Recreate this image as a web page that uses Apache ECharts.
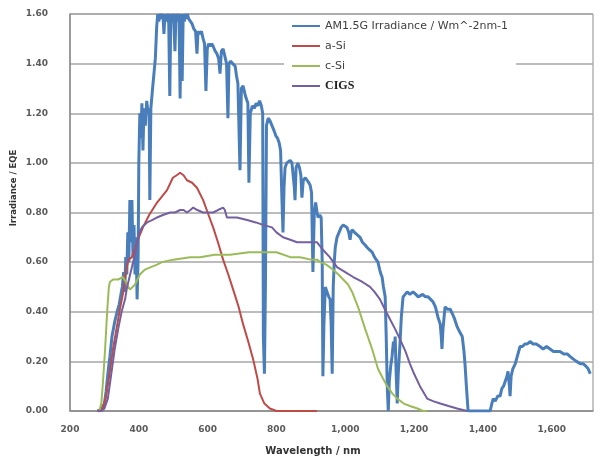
<!DOCTYPE html>
<html>
<head>
<meta charset="utf-8">
<script src="https://cdn.jsdelivr.net/npm/echarts@6/dist/echarts.min.js"></script>
<style>html,body{margin:0;padding:0;background:#fff}#c{width:608px;height:465px}</style>
</head>
<body>
<div id="c"></div>
<script>
// ---- data ----
const xTicks = [200, 400, 600, 800, 1000, 1200, 1400, 1600];
const yTicks = [0, 0.2, 0.4, 0.6, 0.8, 1.0, 1.2, 1.4, 1.6];
const seriesNames = ['AM1.5G Irradiance / Wm^-2nm-1', 'a-Si', 'c-Si', 'CIGS'];

const amWl = [280,290,300,305,310,316,322,330,337,343,348,352,356,359,362,365,368,371,374,377,380,383,386,389,392,395,398,400,403,406,409,412,415,419,423,427,430,432,435,440,444,448,452,455,458,462,466,470,473,476,480,484,487,490,493,496,499,502,505,508,511,514,517,520,523,526,529,532,535,538,541,545,550,555,560,565,569,572,577,582,587,591,595,599,603,608,612,616,622,627,632,636,640,645,650,655,659,662,667,673,680,684,688,694,698,703,708,712,717,720,724,730,736,741,746,751,756,760,762,765,768,771,776,781,787,793,798,803,808,812,816,819,822,825,830,835,840,845,848,852,854,857,862,867,871,874,878,884,889,894,898,902,906,910,914,918,921,926,930,933,935,938,942,947,952,956,959,962,965,968,971,976,982,988,994,999,1005,1010,1014,1017,1020,1027,1035,1043,1050,1057,1063,1070,1078,1085,1090,1095,1100,1104,1107,1111,1116,1119,1122,1125,1128,1132,1136,1140,1143,1145,1148,1151,1154,1159,1163,1168,1174,1180,1188,1197,1205,1212,1217,1225,1233,1241,1248,1255,1262,1269,1276,1279,1281,1284,1290,1297,1305,1312,1318,1325,1332,1340,1345,1348,1352,1357,1380,1400,1421,1426,1430,1436,1443,1450,1455,1460,1465,1470,1473,1477,1479,1482,1487,1494,1500,1508,1515,1522,1529,1537,1546,1555,1566,1575,1585,1595,1605,1615,1624,1635,1645,1653,1662,1672,1683,1692,1700,1706,1712];
const amVal = [0,0.005,0.03,0.08,0.15,0.22,0.3,0.36,0.4,0.43,0.47,0.5,0.56,0.48,0.62,0.55,0.72,0.6,0.85,0.68,0.85,0.62,0.75,0.55,0.7,0.45,0.62,1.0,1.2,1.1,1.24,1.05,1.22,1.15,1.25,1.2,1.22,0.85,1.22,1.3,1.36,1.42,1.55,1.6,1.57,1.6,1.58,1.6,1.52,1.6,1.57,1.6,1.56,1.27,1.6,1.57,1.6,1.56,1.45,1.6,1.57,1.6,1.58,1.26,1.6,1.33,1.6,1.57,1.6,1.58,1.6,1.58,1.57,1.56,1.54,1.53,1.44,1.53,1.52,1.53,1.5,1.48,1.29,1.46,1.48,1.47,1.48,1.47,1.45,1.44,1.42,1.36,1.45,1.46,1.43,1.4,1.18,1.4,1.41,1.4,1.39,1.35,1.32,0.97,1.3,1.31,1.28,1.26,1.24,0.92,1.2,1.23,1.22,1.24,1.23,1.25,1.23,1.2,0.3,0.15,0.5,1.15,1.18,1.17,1.15,1.13,1.11,1.1,1.08,1.05,0.85,0.72,0.9,0.98,1.0,1.0,1.01,1.0,1.0,0.9,0.85,0.98,1.0,0.98,0.95,0.86,0.93,0.94,0.93,0.92,0.91,0.88,0.56,0.8,0.84,0.8,0.78,0.79,0.78,0.6,0.14,0.35,0.5,0.48,0.46,0.45,0.35,0.15,0.5,0.6,0.66,0.7,0.72,0.74,0.75,0.75,0.74,0.72,0.69,0.72,0.73,0.72,0.71,0.7,0.68,0.67,0.66,0.65,0.64,0.62,0.61,0.6,0.57,0.55,0.54,0.5,0.46,0.3,0.1,0.0,0.12,0.18,0.22,0.28,0.25,0.3,0.15,0.03,0.15,0.27,0.38,0.46,0.47,0.48,0.47,0.48,0.47,0.46,0.46,0.47,0.46,0.46,0.45,0.44,0.42,0.38,0.35,0.3,0.25,0.33,0.42,0.41,0.41,0.39,0.37,0.34,0.32,0.3,0.24,0.19,0.1,0.0,0.0,0.0,0.0,0.03,0.05,0.04,0.06,0.06,0.09,0.1,0.12,0.14,0.16,0.1,0.06,0.14,0.17,0.19,0.22,0.26,0.26,0.27,0.27,0.28,0.27,0.27,0.26,0.25,0.26,0.25,0.24,0.24,0.24,0.23,0.23,0.22,0.21,0.2,0.19,0.19,0.18,0.17,0.15];

const aSiWl = [280,295,305,315,325,335,345,355,362,370,380,390,400,412,430,453,482,499,510,520,530,540,555,569,587,600,616,630,645,660,674,690,703,718,732,745,752,765,781,800,850,918];
const aSiVal = [0,0.01,0.06,0.15,0.25,0.33,0.41,0.48,0.56,0.61,0.62,0.66,0.70,0.74,0.79,0.84,0.89,0.94,0.95,0.96,0.95,0.93,0.92,0.90,0.85,0.80,0.74,0.68,0.61,0.55,0.49,0.42,0.35,0.28,0.21,0.13,0.07,0.03,0.01,0,0,0];

const cSiWl = [285,291,296,302,308,313,316,325,340,354,362,369,374,382,389,396,403,418,435,453,467,500,549,578,620,665,720,761,800,840,869,900,918,927,945,964,980,994,1008,1020,1037,1058,1078,1095,1110,1122,1137,1151,1170,1188,1210,1226,1238];
const cSiVal = [0,0.03,0.12,0.25,0.4,0.5,0.52,0.53,0.53,0.54,0.52,0.5,0.49,0.5,0.51,0.53,0.55,0.57,0.58,0.59,0.6,0.61,0.62,0.62,0.63,0.63,0.64,0.64,0.64,0.62,0.62,0.61,0.61,0.6,0.59,0.57,0.55,0.53,0.51,0.48,0.42,0.33,0.25,0.17,0.13,0.10,0.07,0.05,0.03,0.02,0.01,0,0];

const cigsWl = [280,292,300,310,320,330,340,350,360,366,380,390,400,405,412,424,440,453,470,491,505,520,530,540,550,558,570,587,600,616,630,645,650,656,670,685,700,715,740,761,787,800,819,840,860,880,906,918,935,955,976,1000,1023,1050,1072,1085,1101,1115,1130,1145,1159,1175,1188,1200,1217,1238,1255,1276,1300,1325,1354];
const cigsVal = [0,0,0.01,0.05,0.15,0.25,0.33,0.4,0.45,0.5,0.58,0.64,0.71,0.73,0.745,0.76,0.77,0.78,0.79,0.80,0.80,0.81,0.81,0.80,0.81,0.82,0.81,0.80,0.80,0.80,0.81,0.82,0.81,0.78,0.78,0.78,0.775,0.77,0.76,0.75,0.74,0.72,0.70,0.69,0.68,0.68,0.68,0.68,0.65,0.62,0.58,0.56,0.54,0.52,0.50,0.48,0.45,0.41,0.37,0.33,0.29,0.24,0.19,0.15,0.10,0.05,0.04,0.03,0.02,0.01,0];

// ---- chart ----
const zip = (a, b) => a.map((v, i) => [v, b[i]]);
const colors = ['#4a7ebb', '#be4b48', '#9bbb59', '#7460a0'];
const widths = [3, 2, 2, 2];
const seriesData = [zip(amWl, amVal), zip(aSiWl, aSiVal), zip(cSiWl, cSiVal), zip(cigsWl, cigsVal)];

const chart = echarts.init(document.getElementById('c'), null, {renderer: 'canvas'});
const legendFont = {fontFamily: 'DejaVu Sans', fontSize: 11, color: '#404040', lineHeight: 12};
chart.setOption({
  animation: false,
  backgroundColor: '#fff',
  color: colors,
  grid: {left: 70, right: 15, top: 14, bottom: 54, containLabel: false,
         show: true, borderColor: '#8c8c8c', borderWidth: 1, backgroundColor: 'transparent'},
  legend: {
    orient: 'vertical', left: 284, top: 16, padding: [4, 8, 4, 7],
    itemWidth: 28, itemHeight: 12, itemGap: 8, backgroundColor: '#fff',
    itemStyle: {opacity: 0},
    textStyle: legendFont,
    data: [
      {name: seriesNames[0]}, {name: seriesNames[1]}, {name: seriesNames[2]},
      {name: seriesNames[3], textStyle: {fontFamily: 'Liberation Serif', fontWeight: 'bold', fontSize: 12, color: '#222', lineHeight: 12}}
    ]
  },
  xAxis: {
    type: 'value', min: xTicks[0], max: 1720, interval: 200,
    axisLine: {show: true, lineStyle: {color: '#8c8c8c', width: 1.5}},
    axisTick: {show: false},
    splitLine: {show: false},
    axisLabel: {margin: 14, color: '#5a5a5a', fontFamily: 'DejaVu Sans', fontWeight: 'bold', fontSize: 9,
      formatter: v => xTicks.includes(v) ? v.toLocaleString('en-US') : ''}
  },
  yAxis: {
    type: 'value', min: yTicks[0], max: yTicks[yTicks.length - 1], interval: 0.2,
    axisLine: {show: true, lineStyle: {color: '#8c8c8c', width: 1.5}},
    axisTick: {show: false},
    splitLine: {show: true, lineStyle: {color: '#a6a6a6', width: 1.5}},
    axisLabel: {margin: 22, color: '#5a5a5a', fontFamily: 'DejaVu Sans', fontWeight: 'bold', fontSize: 9,
      formatter: v => v.toFixed(2)}
  },
  series: seriesNames.map((n, i) => ({
    name: n, type: 'line', data: seriesData[i], symbol: 'none', showSymbol: false,
    clip: true, lineStyle: {width: widths[i], color: colors[i]}, itemStyle: {color: colors[i]}
  })),
  graphic: [
    {type: 'text', x: 313, y: 451, style: {text: 'Wavelength / nm', align: 'center', verticalAlign: 'middle',
      font: 'bold 10px "DejaVu Sans"', fill: '#333'}},
    {type: 'text', x: 14, y: 188, rotation: Math.PI / 2, style: {text: 'Irradiance / EQE', align: 'center', verticalAlign: 'middle',
      font: 'bold 8.5px "DejaVu Sans"', fill: '#333'}}
  ]
});
</script>
</body>
</html>
